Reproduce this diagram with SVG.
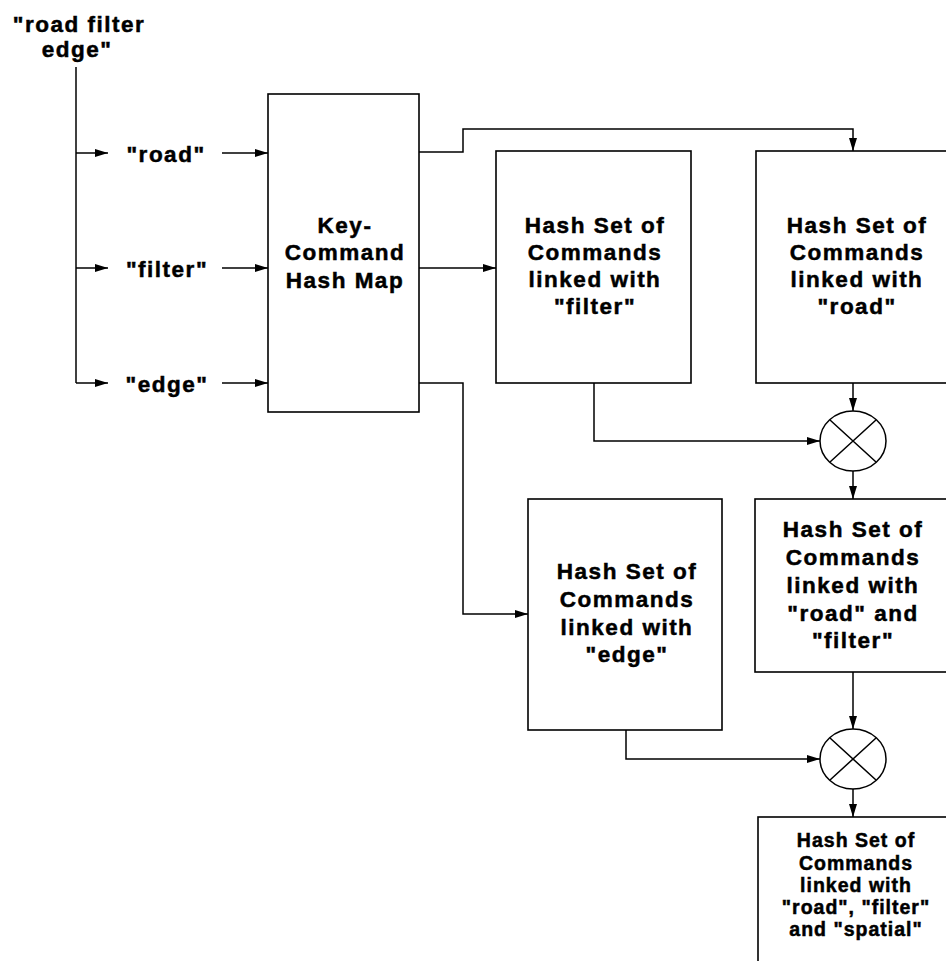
<svg xmlns="http://www.w3.org/2000/svg" width="946" height="961" viewBox="0 0 946 961">
  <style>
    .box { fill: #fff; stroke: #000; stroke-width: 1.6; }
    .wire { fill: none; stroke: #000; stroke-width: 1.5; }
    .op { fill: #fff; stroke: #000; stroke-width: 1.5; }
    .lbl { font-family: "Liberation Sans", Arial, sans-serif; font-weight: bold; font-size: 22.5px; letter-spacing: 1.5px; fill: #000; stroke: #000; stroke-width: 0.5px; text-anchor: middle; }
    .sm { font-size: 19.5px; letter-spacing: 1px; }
  </style>
  <defs>
    <marker id="arr" markerUnits="userSpaceOnUse" markerWidth="14" markerHeight="10" refX="13" refY="4.5" orient="auto">
      <path d="M0,0.5 L13,4.5 L0,8.5 z" fill="#000"/>
    </marker>
  </defs>

  <rect width="946" height="961" fill="#fff"/>

  <!-- connectors -->
  <g id="connectors" class="wire" marker-end="url(#arr)">
    <!-- query split into keys -->
    <path d="M76,67 V383" marker-end="none"/>
    <path d="M76,153 H108"/>
    <path d="M76,268 H108"/>
    <path d="M76,383 H108"/>
    <!-- keys into the hash map -->
    <path d="M222,153 H268"/>
    <path d="M222,268 H268"/>
    <path d="M222,383 H268"/>
    <!-- hash map to the three hash sets -->
    <path d="M419,152 H463 V129 H853 V151"/>
    <path d="M419,268 H496"/>
    <path d="M419,383 H463 V614 H528"/>
    <!-- first intersection -->
    <path d="M594,383 V441 H820"/>
    <path d="M853,383 V411"/>
    <path d="M853,471 V499"/>
    <!-- second intersection -->
    <path d="M853,672 V729"/>
    <path d="M626,730 V759 H820"/>
    <path d="M853,789 V817"/>
  </g>

  <!-- input string -->
  <g id="query">
    <text class="lbl" x="79" y="32">"road filter</text>
    <text class="lbl" x="77" y="57">edge"</text>
  </g>

  <g id="key-road"><text class="lbl" x="166" y="162">"road"</text></g>
  <g id="key-filter"><text class="lbl" x="167" y="277">"filter"</text></g>
  <g id="key-edge"><text class="lbl" x="167" y="392">"edge"</text></g>

  <g id="hash-map">
    <rect class="box" x="268" y="94" width="151" height="318"/>
    <text class="lbl" x="345" y="233">Key-</text>
    <text class="lbl" x="345" y="260">Command</text>
    <text class="lbl" x="345" y="288">Hash Map</text>
  </g>

  <g id="set-filter">
    <rect class="box" x="496" y="151" width="195" height="232"/>
    <text class="lbl" x="595" y="233">Hash Set of</text>
    <text class="lbl" x="595" y="260">Commands</text>
    <text class="lbl" x="595" y="287">linked with</text>
    <text class="lbl" x="595" y="314">"filter"</text>
  </g>

  <g id="set-road">
    <rect class="box" x="756" y="151" width="200" height="232"/>
    <text class="lbl" x="857" y="233">Hash Set of</text>
    <text class="lbl" x="857" y="260">Commands</text>
    <text class="lbl" x="857" y="287">linked with</text>
    <text class="lbl" x="857" y="314">"road"</text>
  </g>

  <g id="intersect-1">
    <ellipse class="op" cx="853" cy="441" rx="33" ry="30"/>
    <path class="wire" d="M830,420 L876,462 M876,420 L830,462"/>
  </g>

  <g id="set-edge">
    <rect class="box" x="528" y="499" width="194" height="231"/>
    <text class="lbl" x="627" y="579">Hash Set of</text>
    <text class="lbl" x="627" y="607">Commands</text>
    <text class="lbl" x="627" y="635">linked with</text>
    <text class="lbl" x="627" y="662">"edge"</text>
  </g>

  <g id="set-road-filter">
    <rect class="box" x="755" y="499" width="200" height="173"/>
    <text class="lbl" x="853" y="537">Hash Set of</text>
    <text class="lbl" x="853" y="565">Commands</text>
    <text class="lbl" x="853" y="593">linked with</text>
    <text class="lbl" x="853" y="621">"road" and</text>
    <text class="lbl" x="853" y="648">"filter"</text>
  </g>

  <g id="intersect-2">
    <ellipse class="op" cx="853" cy="759" rx="33" ry="30"/>
    <path class="wire" d="M830,738 L876,780 M876,738 L830,780"/>
  </g>

  <g id="set-road-filter-spatial">
    <rect class="box" x="758" y="817" width="200" height="160"/>
    <text class="lbl sm" x="856" y="847">Hash Set of</text>
    <text class="lbl sm" x="856" y="870">Commands</text>
    <text class="lbl sm" x="856" y="892">linked with</text>
    <text class="lbl sm" x="856" y="914">"road", "filter"</text>
    <text class="lbl sm" x="856" y="936">and "spatial"</text>
  </g>
</svg>
